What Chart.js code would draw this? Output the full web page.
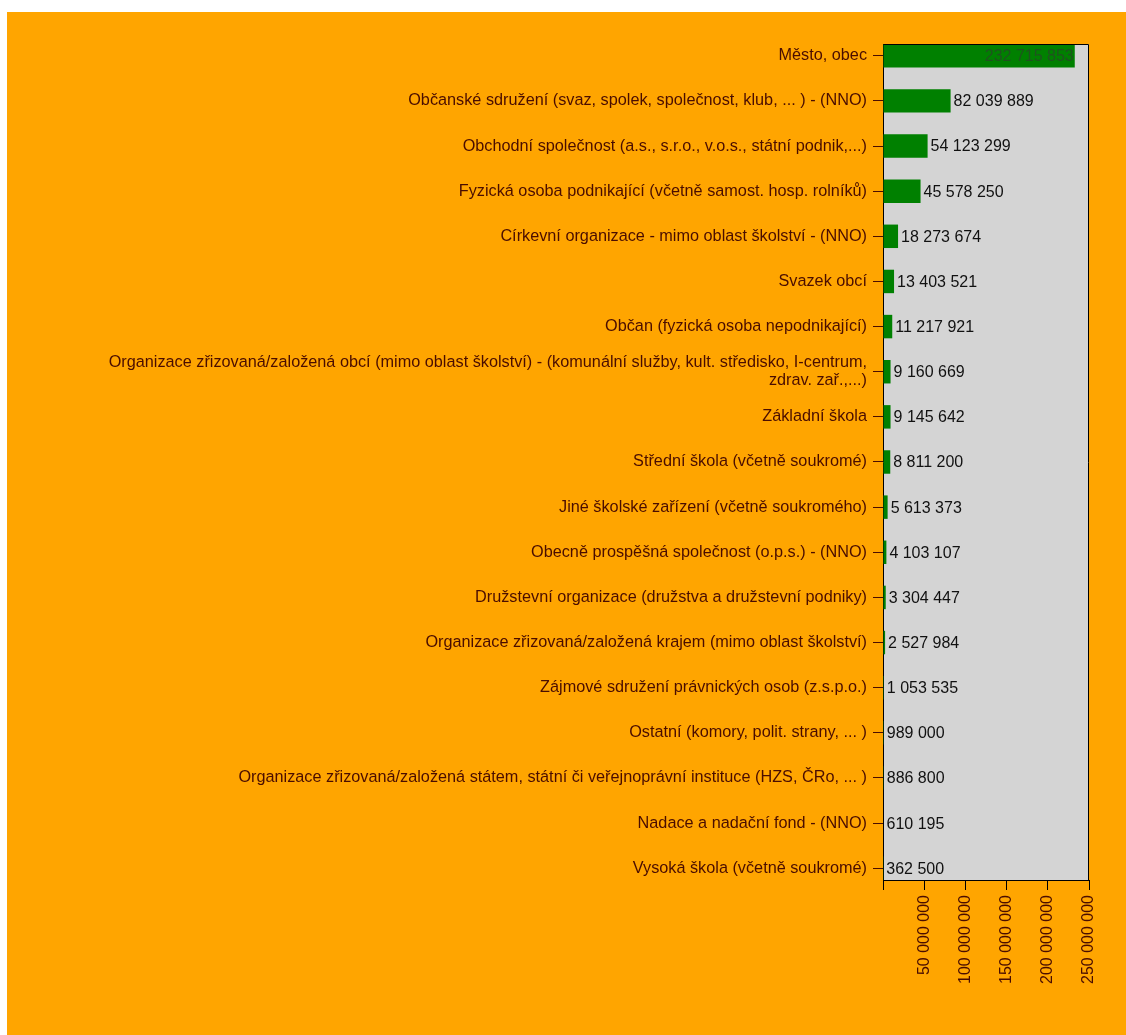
<!DOCTYPE html>
<html><head><meta charset="utf-8">
<script src="https://cdn.jsdelivr.net/npm/chart.js@4.4.1/dist/chart.umd.min.js"></script>
<style>
html,body{margin:0;padding:0;background:#fff;}
#wrap{position:absolute;left:7px;top:12px;width:1119px;height:1023px;background:#FFA500;}
canvas{display:block;}
</style></head><body>
<div id="wrap"><canvas id="c" width="1119" height="1023"></canvas></div>
<script>
const categories = [
  "Město, obec",
  "Občanské sdružení (svaz, spolek, společnost, klub, ... ) - (NNO)",
  "Obchodní společnost (a.s., s.r.o., v.o.s., státní podnik,...)",
  "Fyzická osoba podnikající (včetně samost. hosp. rolníků)",
  "Církevní organizace - mimo oblast školství - (NNO)",
  "Svazek obcí",
  "Občan (fyzická osoba nepodnikající)",
  ["Organizace zřizovaná/založená obcí (mimo oblast školství) - (komunální služby, kult. středisko, I-centrum,", "zdrav. zař.,...)"],
  "Základní škola",
  "Střední škola (včetně soukromé)",
  "Jiné školské zařízení (včetně soukromého)",
  "Obecně prospěšná společnost (o.p.s.) - (NNO)",
  "Družstevní organizace (družstva a družstevní podniky)",
  "Organizace zřizovaná/založená krajem (mimo oblast školství)",
  "Zájmové sdružení právnických osob (z.s.p.o.)",
  "Ostatní (komory, polit. strany, ... )",
  "Organizace zřizovaná/založená státem, státní či veřejnoprávní instituce (HZS, ČRo, ... )",
  "Nadace a nadační fond - (NNO)",
  "Vysoká škola (včetně soukromé)"
];
const values = [232715853, 82039889, 54123299, 45578250, 18273674, 13403521, 11217921, 9160669, 9145642, 8811200, 5613373, 4103107, 3304447, 2527984, 1053535, 989000, 886800, 610195, 362500];
const xTicks = [0, 50000000, 100000000, 150000000, 200000000, 250000000];

const FONT = '"Liberation Sans", Arial, sans-serif';
const LABEL_COLOR = '#4a0d00';
const fmt = v => String(v).replace(/\B(?=(\d{3})+(?!\d))/g, ' ');

const plotFrame = {
  id: 'plotFrame',
  beforeDraw(chart) {
    const {ctx, chartArea: a} = chart;
    ctx.save();
    ctx.fillStyle = '#d4d4d4';
    ctx.fillRect(a.left, a.top, a.right - a.left, a.bottom - a.top);
    ctx.restore();
  },
  afterDraw(chart) {
    const {ctx, chartArea: a} = chart;
    ctx.save();
    ctx.strokeStyle = '#000';
    ctx.lineWidth = 1;
    ctx.beginPath();
    ctx.moveTo(Math.round(a.left) + 0.5, Math.round(a.top) + 0.5);
    ctx.lineTo(Math.round(a.right) - 0.5, Math.round(a.top) + 0.5);
    ctx.lineTo(Math.round(a.right) - 0.5, Math.round(a.bottom));
    ctx.stroke();
    ctx.restore();
  }
};

const valueLabels = {
  id: 'valueLabels',
  afterDatasetsDraw(chart) {
    const {ctx, chartArea: a} = chart;
    const meta = chart.getDatasetMeta(0);
    ctx.save();
    ctx.font = '16px ' + FONT;
    ctx.textBaseline = 'middle';
    meta.data.forEach((bar, i) => {
      const txt = fmt(values[i]);
      const w = ctx.measureText(txt).width;
      if (bar.x + 3 + w > a.right) {
        ctx.fillStyle = '#1f531f';
        ctx.textAlign = 'right';
        ctx.fillText(txt, bar.x - 1, bar.y + 1);
      } else {
        ctx.fillStyle = '#111';
        ctx.textAlign = 'left';
        ctx.fillText(txt, bar.x + 3, bar.y + 1);
      }
    });
    ctx.restore();
  }
};

new Chart(document.getElementById('c'), {
  type: 'bar',
  data: {
    datasets: [{
      data: values.map((v, i) => ({x: v, y: i})),
      backgroundColor: '#008000',
      borderWidth: 0,
      barPercentage: 0.52,
      categoryPercentage: 1
    }]
  },
  options: {
    indexAxis: 'y',
    responsive: false,
    devicePixelRatio: 1,
    animation: false,
    layout: {padding: {top: 32, right: 37, left: 0, bottom: 45}},
    plugins: {legend: {display: false}, tooltip: {enabled: false}},
    scales: {
      x: {
        type: 'linear',
        position: 'bottom',
        min: 0,
        max: 250000000,
        afterBuildTicks: s => { s.ticks = xTicks.map(v => ({value: v})); },
        afterFit: s => { s.height = 110; },
        ticks: {
          autoSkip: false, minRotation: 90, maxRotation: 90, padding: 5,
          color: LABEL_COLOR, font: {family: FONT, size: 16},
          callback: v => v === 0 ? '' : fmt(v)
        },
        grid: {drawOnChartArea: false, drawTicks: true, tickLength: 10, color: '#000'},
        border: {display: true, color: '#000'}
      },
      y: {
        type: 'linear',
        reverse: true,
        offset: false,
        min: -0.26,
        max: 18.26,
        afterBuildTicks: s => { s.ticks = categories.map((_, i) => ({value: i})); },
        afterFit: s => { s.width = 876; },
        ticks: {
          autoSkip: false, padding: 6,
          color: LABEL_COLOR, font: {family: FONT, size: 16.25, lineHeight: 1.1},
          callback: v => categories[v]
        },
        grid: {offset: false, drawOnChartArea: false, drawTicks: true, tickLength: 10, color: LABEL_COLOR},
        border: {display: true, color: '#000'}
      }
    }
  },
  plugins: [plotFrame, valueLabels]
});
</script>
</body></html>
